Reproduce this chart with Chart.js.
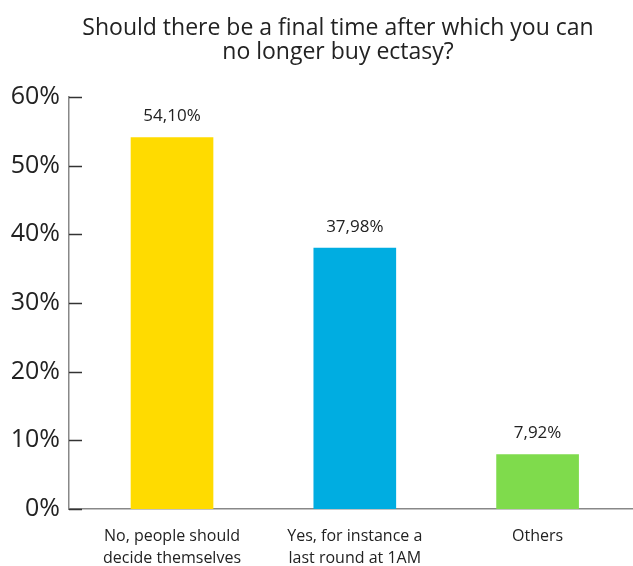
<!DOCTYPE html>
<html>
<head>
<meta charset="utf-8">
<script src="https://cdn.jsdelivr.net/npm/chart.js@4"></script>
<style>
  body { margin: 0; background: #fff; }
</style>
</head>
<body>
<canvas id="chart" width="633" height="566"></canvas>
<script>
// Survey answers and their share of respondents
const titleLines = ["Should there be a final time after which you can", "no longer buy ectasy?"];
const categories = [
  ["No, people should", "decide themselves"],
  ["Yes, for instance a", "last round at 1AM"],
  ["Others"]
];
const shares = [54.10, 37.98, 7.92];
const barColors = ["#FFDB00", "#00ADE1", "#7FDB4C"];
const yTicks = [0, 10, 20, 30, 40, 50, 60];

// title, centred a bit right of the canvas middle like the original
const titlePlugin = {
  id: "titlePlugin",
  afterDraw(chart) {
    const ctx = chart.ctx;
    ctx.save();
    ctx.font = "23px 'Open Sans'";
    ctx.fillStyle = "#222";
    ctx.textAlign = "center";
    ctx.textBaseline = "middle";
    titleLines.forEach((line, i) => ctx.fillText(line, 338, 28 + i * 24));
    ctx.restore();
  }
};

// small tick marks pointing into the plot from the y axis
const innerTicks = {
  id: "innerTicks",
  afterDraw(chart) {
    const ctx = chart.ctx;
    const y = chart.scales.y;
    const left = chart.chartArea.left;
    ctx.save();
    ctx.strokeStyle = "#333";
    ctx.lineWidth = 1.5;
    yTicks.forEach(v => {
      const py = Math.round(y.getPixelForValue(v)) + 0.5;
      ctx.beginPath();
      ctx.moveTo(left, py);
      ctx.lineTo(left + 13, py);
      ctx.stroke();
    });
    ctx.restore();
  }
};

// percentage labels above each bar
const valueLabels = {
  id: "valueLabels",
  afterDatasetsDraw(chart) {
    const ctx = chart.ctx;
    const meta = chart.getDatasetMeta(0);
    ctx.save();
    ctx.font = "17px 'Open Sans'";
    ctx.fillStyle = "#222";
    ctx.textAlign = "center";
    ctx.textBaseline = "middle";
    meta.data.forEach((bar, i) => {
      const txt = shares[i].toFixed(2).replace(".", ",") + "%";
      ctx.fillText(txt, bar.x, bar.y - 21);
    });
    ctx.restore();
  }
};

new Chart(document.getElementById("chart").getContext("2d"), {
  type: "bar",
  data: {
    datasets: [{
      data: shares.map((v, i) => ({ x: i, y: v })),
      backgroundColor: barColors,
      barThickness: 82
    }]
  },
  options: {
    responsive: false,
    animation: false,
    layout: { padding: { left: 0, right: 0, top: 97, bottom: 0 } },
    plugins: {
      legend: { display: false },
      tooltip: { enabled: false },
      title: { display: false }
    },
    scales: {
      x: {
        type: "linear",
        offset: false,
        min: -0.5636,
        max: 2.522,
        grid: { display: false, drawTicks: false },
        border: { color: "#888", width: 1.5 },
        afterBuildTicks: scale => {
          scale.ticks = categories.map((_, i) => ({ value: i }));
        },
        afterFit: scale => { scale.height = 57; },
        ticks: {
          autoSkip: false,
          maxRotation: 0,
          padding: 17,
          color: "#222",
          font: { family: "'Open Sans'", size: 16, lineHeight: 1.35 },
          callback: v => categories[v] || ""
        }
      },
      y: {
        min: 0,
        max: 60,
        grid: { display: false, drawTicks: false },
        border: { color: "#888", width: 1.5 },
        afterFit: scale => { scale.width = 69; },
        ticks: {
          stepSize: 10,
          padding: 9,
          color: "#222",
          font: { family: "'Open Sans'", size: 25 },
          callback: v => v + "%"
        }
      }
    }
  },
  plugins: [titlePlugin, innerTicks, valueLabels]
});
</script>
</body>
</html>
